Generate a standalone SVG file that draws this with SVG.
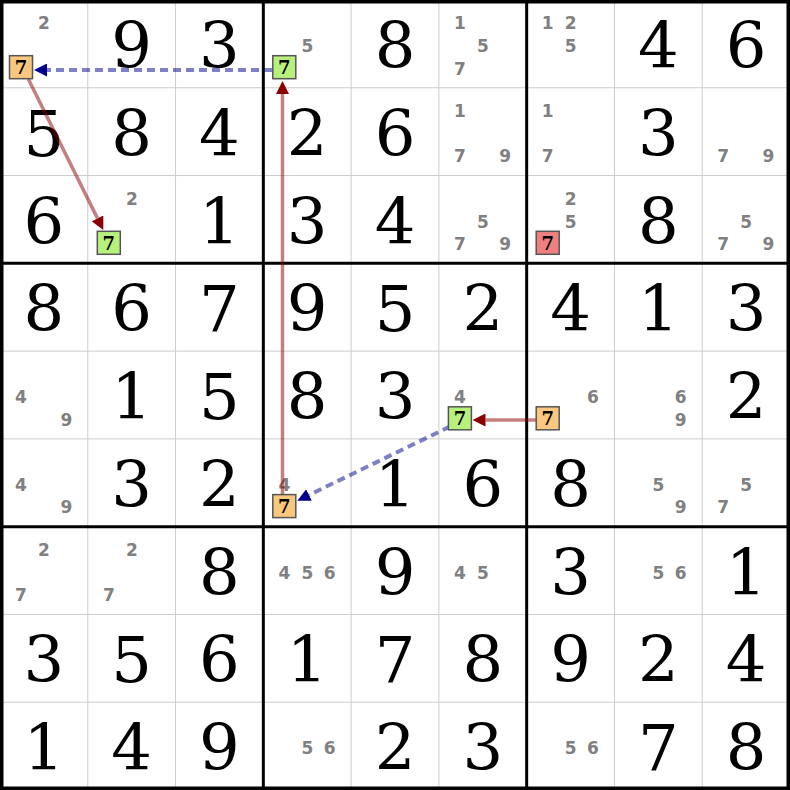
<svg xmlns="http://www.w3.org/2000/svg" width="790" height="790" viewBox="0 0 790 790">
<style>
.thin{stroke:#cccccc;stroke-width:1;fill:none}
.thick{stroke:#000;stroke-width:3;fill:none}
.g{font-family:"DejaVu Serif",serif;font-size:64px;fill:#000;text-anchor:middle}
.c{font-family:"DejaVu Sans","Liberation Sans",sans-serif;font-weight:bold;font-size:17px;fill:#808080;text-anchor:middle}
.bx{stroke:#555;stroke-width:1.5}
.bt{font-family:"DejaVu Serif",serif;font-weight:bold;font-size:18px;fill:#000;text-anchor:middle}
.on{fill:#f9c77e}.gr{fill:#b8f07e}.rd{fill:#f08080}
.lr{stroke:#8b0000;stroke-opacity:0.5;stroke-width:3.5;fill:none}
.lb{stroke:#00008b;stroke-opacity:0.5;stroke-width:4;stroke-dasharray:8 5;fill:none}
</style>
<defs>
<marker id="ar" viewBox="0 0 13 13" refX="0" refY="6.5" markerWidth="13" markerHeight="13" markerUnits="userSpaceOnUse" orient="auto"><path d="M0,0 L13,6.5 L0,13 z" fill="#8b0000"/></marker>
<marker id="ab" viewBox="0 0 13 13" refX="0" refY="6.5" markerWidth="13" markerHeight="13" markerUnits="userSpaceOnUse" orient="auto"><path d="M0,0 L13,6.5 L0,13 z" fill="#00008b"/></marker>
</defs>
<rect width="790" height="790" fill="#fff"/>
<g id="grid">
<path class="thin" d="M87.78,0V790M175.56,0V790M351.11,0V790M438.89,0V790M614.44,0V790M702.22,0V790M0,87.78H790M0,175.56H790M0,351.11H790M0,438.89H790M0,614.44H790M0,702.22H790"/>
<path class="thick" d="M263.33,0V790M526.67,0V790M0,263.33H790M0,526.67H790"/>
<rect x="1.75" y="1.75" width="786.5" height="786.5" fill="none" stroke="#000" stroke-width="3.5"/>
</g>
<g id="givens" class="g">
<text x="131.67" y="67.9">9</text><text x="219.44" y="67.9">3</text><text x="395" y="67.9">8</text><text x="658.33" y="67.9">4</text><text x="746.11" y="67.9">6</text>
<text x="43.89" y="155.7">5</text><text x="131.67" y="155.7">8</text><text x="219.44" y="155.7">4</text><text x="307.22" y="155.7">2</text><text x="395" y="155.7">6</text><text x="658.33" y="155.7">3</text>
<text x="43.89" y="243.5">6</text><text x="219.44" y="243.5">1</text><text x="307.22" y="243.5">3</text><text x="395" y="243.5">4</text><text x="658.33" y="243.5">8</text>
<text x="43.89" y="331.2">8</text><text x="131.67" y="331.2">6</text><text x="219.44" y="331.2">7</text><text x="307.22" y="331.2">9</text><text x="395" y="331.2">5</text><text x="482.78" y="331.2">2</text><text x="570.56" y="331.2">4</text><text x="658.33" y="331.2">1</text><text x="746.11" y="331.2">3</text>
<text x="131.67" y="419">1</text><text x="219.44" y="419">5</text><text x="307.22" y="419">8</text><text x="395" y="419">3</text><text x="746.11" y="419">2</text>
<text x="131.67" y="506.8">3</text><text x="219.44" y="506.8">2</text><text x="395" y="506.8">1</text><text x="482.78" y="506.8">6</text><text x="570.56" y="506.8">8</text>
<text x="219.44" y="594.6">8</text><text x="395" y="594.6">9</text><text x="570.56" y="594.6">3</text><text x="746.11" y="594.6">1</text>
<text x="43.89" y="682.3">3</text><text x="131.67" y="682.3">5</text><text x="219.44" y="682.3">6</text><text x="307.22" y="682.3">1</text><text x="395" y="682.3">7</text><text x="482.78" y="682.3">8</text><text x="570.56" y="682.3">9</text><text x="658.33" y="682.3">2</text><text x="746.11" y="682.3">4</text>
<text x="43.89" y="770.1">1</text><text x="131.67" y="770.1">4</text><text x="219.44" y="770.1">9</text><text x="395" y="770.1">2</text><text x="482.78" y="770.1">3</text><text x="658.33" y="770.1">7</text><text x="746.11" y="770.1">8</text>
</g>
<g id="candidates" class="c">
<text x="44" y="29.2">2</text>
<text x="307.3" y="52">5</text>
<text x="459.9" y="29.2">1</text><text x="482.9" y="52">5</text><text x="459.9" y="74.5">7</text>
<text x="547.7" y="29.2">1</text><text x="570.7" y="29.2">2</text><text x="570.7" y="52">5</text>
<text x="459.9" y="117">1</text><text x="459.9" y="162.3">7</text><text x="505.2" y="162.3">9</text>
<text x="547.7" y="117">1</text><text x="547.7" y="162.3">7</text>
<text x="723.2" y="162.3">7</text><text x="768.5" y="162.3">9</text>
<text x="131.8" y="204.8">2</text>
<text x="482.9" y="227.6">5</text><text x="459.9" y="250.1">7</text><text x="505.2" y="250.1">9</text>
<text x="570.7" y="204.8">2</text><text x="570.7" y="227.6">5</text>
<text x="746.2" y="227.6">5</text><text x="723.2" y="250.1">7</text><text x="768.5" y="250.1">9</text>
<text x="21" y="403.1">4</text><text x="66.3" y="425.6">9</text>
<text x="459.9" y="403.1">4</text>
<text x="593" y="403.1">6</text>
<text x="680.7" y="403.1">6</text><text x="680.7" y="425.6">9</text>
<text x="21" y="490.9">4</text><text x="66.3" y="513.4">9</text>
<text x="284.3" y="490.9">4</text>
<text x="658.4" y="490.9">5</text><text x="680.7" y="513.4">9</text>
<text x="746.2" y="490.9">5</text><text x="723.2" y="513.4">7</text>
<text x="44" y="555.9">2</text><text x="21" y="601.2">7</text>
<text x="131.8" y="555.9">2</text><text x="108.8" y="601.2">7</text>
<text x="284.3" y="578.7">4</text><text x="307.3" y="578.7">5</text><text x="329.6" y="578.7">6</text>
<text x="459.9" y="578.7">4</text><text x="482.9" y="578.7">5</text>
<text x="658.4" y="578.7">5</text><text x="680.7" y="578.7">6</text>
<text x="307.3" y="754.2">5</text><text x="329.6" y="754.2">6</text>
<text x="570.7" y="754.2">5</text><text x="593" y="754.2">6</text>
</g>
<g id="connectors">
<line class="lb" x1="272" y1="70" x2="47" y2="70" marker-end="url(#ab)"/>
<line class="lr" x1="28.3" y1="79" x2="97.5" y2="218.4" marker-end="url(#ar)"/>
<line class="lr" x1="282.5" y1="494" x2="282.5" y2="94" marker-end="url(#ar)"/>
<line class="lr" x1="536" y1="420" x2="485.5" y2="420" marker-end="url(#ar)"/>
<line class="lb" x1="450" y1="426.5" x2="309" y2="495" marker-end="url(#ab)"/>
</g>
<g id="r1c1"><rect class="bx on" x="9.5" y="55.7" width="23" height="23"/><text class="bt" x="21" y="74">7</text></g>
<g id="r3c2"><rect class="bx gr" x="97.3" y="231.3" width="23" height="23"/><text class="bt" x="108.8" y="249.6">7</text></g>
<g id="r1c4"><rect class="bx gr" x="272.8" y="55.7" width="23" height="23"/><text class="bt" x="284.3" y="74">7</text></g>
<g id="r3c7"><rect class="bx rd" x="536.2" y="231.3" width="23" height="23"/><text class="bt" x="547.7" y="249.6">7</text></g>
<g id="r5c6"><rect class="bx gr" x="448.4" y="406.8" width="23" height="23"/><text class="bt" x="459.9" y="425.1">7</text></g>
<g id="r5c7"><rect class="bx on" x="536.2" y="406.8" width="23" height="23"/><text class="bt" x="547.7" y="425.1">7</text></g>
<g id="r6c4"><rect class="bx on" x="272.8" y="494.6" width="23" height="23"/><text class="bt" x="284.3" y="512.9">7</text></g>
</svg>
